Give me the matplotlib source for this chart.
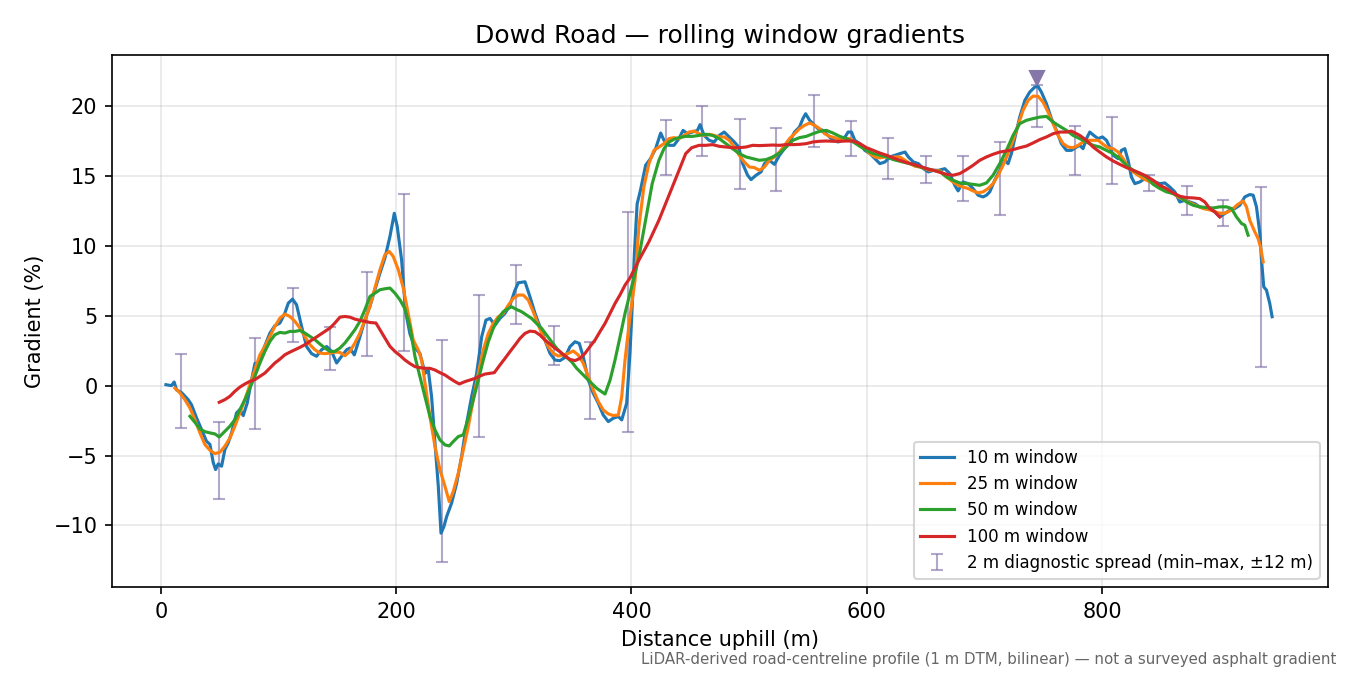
import numpy as np
import matplotlib
matplotlib.use("Agg")
import matplotlib.pyplot as plt

# ---------------- data ----------------
w10_x = [4.3, 9, 11.3, 13.3, 17.6, 23.2, 26, 30.3, 34.6, 38.8, 41.7, 44.5, 46.5, 48.7, 51.6, 54.4, 57.2, 60.1,
         64.3, 67.2, 70, 73.4, 77.1, 80, 82.2, 87, 92.7, 96.9, 101.2, 105.4, 108.3, 111.9, 115.3, 119.6, 123.8,
         128.1, 132.3, 136.6, 140.9, 145.1, 149.4, 153.6, 157.9, 160.7, 164.4, 169.2, 173.4, 177.7, 181.9, 186.2,
         190.4, 194.7, 198.4, 200.9, 204.6, 208.0, 211.7, 216, 220.2, 224.5, 227.3, 230.1, 233, 235.8, 238.1,
         240.6, 242.9, 247.1, 251.4, 255.6, 259.9, 264.1, 268.4, 272.7, 276.3, 279.7, 284, 288.2, 292.5, 296.7,
         301, 303.8, 309.5, 313.7, 318, 322.2, 326.5, 330.7, 335, 339.2, 343.5, 347.7, 352, 355.6, 359, 363.3,
         367.5, 371.8, 376, 380.3, 384.5, 388.8, 391.7, 395.9, 398.7, 400.5, 402.5, 404.8, 407.7, 412, 416.2,
         420.5, 424.8, 427.6, 431.9, 436.1, 440.4, 443.8, 447.5, 451.8, 456.1, 458.3, 461.7, 466, 470.3, 474.6,
         478.8, 483.1, 487.4, 491.1, 494.5, 498.7, 501.6, 505.9, 510.1, 513, 517.2, 521.5, 525.8, 530, 534.3,
         538.6, 542.8, 545.7, 548, 551.4, 554.2, 558.5, 562.8, 567, 571.3, 575.6, 579.8, 584.1, 587, 589.8,
         594.1, 598.3, 602.6, 606.9, 611.1, 615.4, 619.7, 623.9, 628.2, 632.5, 635.3, 639.6, 643.9, 648.1,
         652.4, 656.7, 660.9, 666.3, 670.5, 674.8, 677.6, 681.8, 686.1, 690.3, 694.6, 698.8, 701.7, 704.5,
         708.7, 713, 717.2, 720.1, 722.9, 725.7, 730, 734.3, 738.5, 742.8, 745.6, 748.4, 752.7, 756.9, 761.2,
         765.4, 769.7, 773.9, 778.2, 781, 783.8, 786.7, 789.5, 792.9, 796.6, 800.3, 803.7, 806.5, 809.4, 813.6,
         816.4, 819.3, 822.1, 824.9, 827.8, 832, 836.3, 840.5, 844.8, 849, 853.3, 857.5, 861.8, 866, 870.3,
         874.5, 878.8, 883, 887.3, 891.5, 895.8, 900, 904.3, 908.5, 912.8, 917, 921.3, 925.5, 928.4, 931.2,
         934.1, 935.5, 937.4, 939.7, 942.5, 944.5]
w10_y = [0.07, 0.0, 0.26, -0.3, -0.5, -1.0, -1.36, -2.3, -3.14, -3.98, -4.2, -5.5, -6.0, -5.6, -5.76, -4.57, -4.1,
         -3.38, -1.95, -1.7, -2.14, -1.24, 0.43, 1.6, 1.38, 2.57, 3.76, 4.29, 4.48, 5.19, 5.9, 6.19, 5.79, 4.24,
         2.8, 2.29, 2.1, 2.57, 2.8, 2.45, 1.62, 2.1, 2.57, 2.69, 2.2, 3.5, 4.7, 5.67, 6.86, 8.05, 9.12, 10.67,
         12.33, 11.38, 9.0, 5.3, 3.7, 2.7, 2.3, 0.88, 1.12, -0.79, -4.12, -7.2, -10.55, -10.07, -9.36, -8.4,
         -6.98, -5.07, -2.69, -0.79, 0.88, 3.5, 4.69, 4.81, 4.33, 4.81, 5.17, 5.76, 6.83, 7.36, 7.43, 6.36, 5.17,
         4.21, 3.26, 2.31, 1.83, 1.79, 2.02, 2.79, 3.14, 3.02, 2.07, 0.4, -0.55, -1.26, -2.1, -2.57, -2.33, -2.21,
         -2.45, -1.26, 2.3, 5.5, 9.5, 13.0, 14.0, 15.76, 16.24, 16.95, 18.07, 17.55, 17.19, 17.19, 17.67, 18.26,
         18.02, 18.14, 18.26, 18.67, 17.9, 17.55, 17.43, 17.9, 18.14, 17.79, 17.43, 17.07, 15.88, 15.05, 14.74,
         15.05, 15.29, 15.88, 16.12, 15.83, 16.48, 16.95, 17.43, 18.14, 18.5, 19.1, 19.45, 18.98, 18.74, 18.38,
         18.26, 17.9, 17.55, 17.43, 17.55, 18.14, 18.14, 17.55, 17.31, 16.83, 16.6, 16.24, 15.88, 16.0, 16.36,
         16.48, 16.6, 16.71, 16.36, 16.0, 15.88, 15.52, 15.29, 15.4, 15.4, 15.52, 15.17, 14.33, 13.93, 14.57,
         14.45, 14.1, 13.62, 13.5, 13.62, 13.86, 14.69, 15.4, 16.12, 15.88, 16.6, 17.67, 19.21, 20.4, 21.0,
         21.36, 21.4, 21.0, 20.17, 19.1, 18.26, 17.31, 16.83, 16.83, 17.07, 17.19, 16.95, 17.67, 18.14, 17.9,
         17.67, 17.79, 17.55, 17.07, 16.48, 16.24, 16.83, 16.95, 16.12, 14.93, 14.45, 14.57, 14.81, 14.69, 14.57,
         14.45, 14.5, 14.21, 13.86, 13.14, 13.26, 13.14, 13.02, 12.79, 12.67, 12.67, 12.43, 12.07, 12.31, 12.55,
         12.67, 12.9, 13.5, 13.67, 13.62, 12.79, 10.88, 8.98, 7.07, 6.83, 5.88, 4.93]

w25_x = [11.9, 16.2, 20.4, 24.7, 28.9, 33.2, 37.4, 41.7, 45.9, 50.2, 54.4, 58.7, 62.9, 67.2, 71.4, 75.7, 79.9,
         84.2, 88.4, 92.7, 96.9, 101.2, 105.4, 109.7, 113.9, 118.2, 122.4, 126.7, 130.9, 135.2, 139.4, 143.7,
         147.9, 152.2, 156.4, 160.7, 164.9, 169.2, 173.4, 177.7, 181.9, 186.2, 190.4, 194.1, 197.5, 201.8, 206,
         210.3, 214.5, 218.8, 221.6, 224.5, 228.7, 233, 237.2, 241.5, 245.1, 248.5, 252.8, 257, 261.3, 265.5,
         269.8, 274, 278.3, 282.5, 286.8, 291, 295.3, 299.5, 303.8, 308, 312.3, 316.5, 320.8, 325, 329.3, 333.5,
         337.8, 342, 346.3, 350.5, 354.8, 359, 363.3, 367.5, 371.8, 376, 380.3, 384.5, 388.8, 391.7, 394.5,
         398.7, 403, 406.3, 410.5, 414.8, 419.1, 423.3, 427.6, 431.9, 436.1, 440.4, 444.7, 448.9, 453.2, 457.5,
         461.7, 466, 470.3, 474.6, 478.8, 483.1, 487.4, 491.6, 495.9, 500.2, 504.4, 508.7, 513, 517.2, 521.5,
         525.8, 530, 534.3, 538.6, 542.8, 547.1, 551.4, 555.6, 559.9, 564.2, 568.5, 572.7, 577, 581.3, 585.5,
         589.8, 594.1, 598.3, 602.6, 606.9, 611.1, 615.4, 619.7, 623.9, 628.2, 632.5, 636.7, 641, 645.3, 649.5,
         653.8, 658.1, 662.4, 667.7, 673.3, 677.6, 681.8, 686.1, 690.3, 694.6, 698.8, 703.1, 707.3, 711.6,
         715.8, 720.1, 724.3, 728.6, 732.8, 737.1, 741.3, 745.6, 749.8, 754.1, 758.3, 762.6, 766.8, 771.1,
         775.3, 779.6, 783.8, 788.1, 792.3, 796.6, 800.9, 805.1, 809.4, 813.6, 817.9, 822.1, 826.4, 830.6,
         834.9, 839.1, 843.4, 847.6, 851.9, 856.1, 860.4, 864.6, 868.9, 873.1, 877.4, 881.6, 885.9, 890.1,
         894.4, 898.6, 902.9, 907.1, 911.4, 915.6, 919.9, 922.7, 925.5, 929.8, 932.6, 934.6, 936.9]
w25_y = [-0.17, -0.52, -1.0, -1.6, -2.43, -3.38, -4.21, -4.62, -4.86, -4.76, -4.33, -3.74, -2.9, -1.95, -1.0,
         0.07, 1.14, 2.21, 2.81, 3.52, 4.24, 4.83, 5.12, 4.95, 4.6, 4.12, 3.52, 2.93, 2.57, 2.33, 2.29, 2.33, 2.4,
         2.38, 2.14, 2.45, 3.05, 3.76, 4.71, 5.67, 6.98, 8.29, 9.36, 9.6, 9.24, 8.29, 7.0, 5.1, 3.26, 2.55, 1.83,
         0.17, -2.21, -4.36, -6.02, -7.21, -8.29, -7.57, -6.26, -4.6, -2.93, -1.02, 0.88, 2.55, 3.74, 4.45, 4.93,
         5.17, 5.76, 6.24, 6.48, 6.48, 6.12, 5.29, 4.33, 3.5, 2.79, 2.31, 2.12, 2.19, 2.31, 2.48, 2.19, 1.6, 0.64,
         -0.31, -1.14, -1.74, -2.02, -2.14, -2.1, -0.79, 1.83, 4.93, 7.55, 11.36, 14.21, 15.88, 16.83, 17.07,
         17.31, 17.67, 17.74, 17.67, 17.9, 18.14, 18.21, 18.02, 17.9, 17.98, 17.9, 17.79, 17.79, 17.55, 17.07,
         16.48, 16.0, 15.64, 15.6, 15.4, 15.64, 16.12, 16.36, 16.71, 17.19, 17.67, 18.02, 18.38, 18.62, 18.79,
         18.62, 18.38, 18.02, 17.83, 17.74, 17.6, 17.67, 17.67, 17.43, 17.19, 16.95, 16.6, 16.36, 16.29, 16.36,
         16.31, 16.36, 16.36, 16.12, 15.88, 15.69, 15.64, 15.52, 15.4, 15.4, 15.36, 14.93, 14.57, 14.33, 14.21,
         14.1, 13.93, 13.79, 13.86, 14.1, 14.45, 15.05, 15.76, 16.6, 17.55, 18.62, 19.69, 20.4, 20.71, 20.69,
         20.29, 19.57, 18.74, 17.9, 17.31, 17.07, 17.02, 17.19, 17.43, 17.55, 17.55, 17.55, 17.26, 17.02, 16.95,
         16.71, 16.24, 15.64, 15.29, 15.05, 14.81, 14.64, 14.45, 14.33, 14.17, 13.93, 13.74, 13.5, 13.31, 13.14,
         12.98, 12.83, 12.67, 12.6, 12.5, 12.36, 12.31, 12.43, 12.67, 12.98, 13.21, 12.79, 11.83, 11.0, 10.52,
         9.93, 8.86]

w50_x = [24.7, 28.9, 33.2, 37.4, 41.7, 45.9, 49.6, 54.4, 58.7, 62.9, 67.2, 71.4, 75.7, 79.9, 84.2, 88.4, 92.7,
         96.9, 101.2, 105.4, 109.7, 113.9, 118.2, 122.4, 126.7, 130.9, 135.2, 139.4, 143.7, 147.9, 152.2, 156.4,
         160.7, 164.9, 169.2, 173.4, 177.7, 181.9, 186.2, 190.4, 194.7, 198.9, 203.2, 207.4, 211.7, 216, 220.2,
         224.5, 228.7, 233, 237.2, 241.5, 245.1, 248.5, 252.8, 257, 261.3, 265.5, 269.8, 274, 278.3, 282.5,
         286.8, 291, 295.3, 298.1, 302.3, 306.6, 310.8, 315.1, 319.3, 323.6, 327.8, 332.1, 336.4, 340.6, 344.9,
         349.1, 353.4, 357.6, 361.9, 366.1, 370.4, 374.6, 377.5, 381.8, 386, 390.3, 394.5, 398.7, 403, 406.3,
         412, 417.6, 423.3, 427.6, 431.9, 436.1, 440.4, 446.1, 451.8, 457.5, 463.2, 468.9, 474.6, 480.2, 485.9,
         491.6, 497.3, 503, 508.7, 514.4, 520.1, 525.8, 531.5, 537.2, 542.8, 548.5, 554.2, 559.9, 565.6, 571.3,
         577, 582.7, 588.4, 594.1, 599.8, 605.5, 611.1, 616.8, 622.5, 628.2, 633.9, 639.6, 645.3, 651, 656.7,
         662.4, 667.7, 673.3, 679, 684.7, 690.3, 696, 701.7, 707.3, 713, 718.7, 724.3, 730, 735.7, 741.3, 747,
         752.7, 758.3, 764, 769.7, 775.3, 781, 786.7, 792.3, 798, 803.7, 809.4, 815, 820.7, 826.4, 832, 837.7,
         843.4, 849, 854.7, 860.4, 866, 871.7, 877.4, 883, 888.7, 894.4, 900, 905.7, 910, 914.2, 918.5, 921.3,
         924.1]
w50_y = [-2.19, -2.62, -3.1, -3.29, -3.38, -3.45, -3.67, -3.26, -2.9, -2.43, -1.71, -1.0, -0.17, 0.67, 1.62,
         2.45, 3.17, 3.64, 3.81, 3.76, 3.88, 3.88, 3.95, 3.76, 3.52, 3.29, 2.98, 2.69, 2.45, 2.45, 2.69, 3.05,
         3.52, 4.0, 4.6, 5.43, 6.38, 6.62, 6.86, 6.93, 6.98, 6.62, 6.14, 5.5, 4.2, 2.07, 0.64, -0.79, -2.21, -3.17,
         -3.88, -4.24, -4.31, -4.0, -3.64, -3.52, -2.33, -1.02, 0.4, 1.83, 3.14, 4.1, 4.81, 5.29, 5.52, 5.64,
         5.45, 5.29, 5.05, 4.81, 4.45, 4.1, 3.62, 3.14, 2.67, 2.31, 2.02, 1.71, 1.24, 0.88, 0.52, 0.17, -0.19,
         -0.43, -0.6, 0.4, 1.83, 3.5, 5.17, 6.6, 8.0, 9.2, 11.83, 14.45, 16.12, 16.95, 17.43, 17.62, 17.74,
         17.83, 17.83, 17.9, 17.98, 17.9, 17.67, 17.31, 16.95, 16.6, 16.36, 16.24, 16.12, 16.17, 16.36, 16.64,
         17.07, 17.55, 17.74, 17.83, 18.02, 18.19, 18.26, 18.07, 17.83, 17.67, 17.43, 17.12, 16.83, 16.6, 16.48,
         16.36, 16.17, 16.05, 15.93, 15.81, 15.64, 15.52, 15.4, 15.29, 14.93, 14.69, 14.5, 14.45, 14.4, 14.33,
         14.5, 15.05, 15.88, 16.83, 17.9, 18.74, 18.98, 19.1, 19.21, 19.26, 18.86, 18.55, 18.26, 17.9, 17.67,
         17.43, 17.19, 17.07, 16.83, 16.6, 16.24, 15.76, 15.4, 15.17, 14.93, 14.4, 14.1, 13.86, 13.74, 13.5,
         13.14, 12.9, 12.79, 12.74, 12.71, 12.79, 12.79, 12.67, 12.07, 11.6, 11.48, 10.76]

w100_x = [49.6, 54.4, 58.7, 62.9, 67.2, 71.4, 75.7, 79.9, 84.2, 88.4, 92.7, 96.9, 101.2, 105.4, 109.7, 113.9,
          118.2, 122.4, 126.7, 130.9, 135.2, 139.4, 143.7, 147.9, 152.2, 156.4, 160.7, 164.9, 169.2, 173.4, 177.7,
          182.8, 186.2, 190.4, 194.7, 198.9, 203.2, 207.4, 211.7, 216, 220.2, 224.5, 228.7, 233, 237.2, 241.5,
          245.7, 250, 253.7, 258.5, 262.7, 267, 271.2, 275.5, 279.7, 283.4, 288.2, 292.5, 296.7, 301, 305.2,
          309.5, 313.7, 318, 322.2, 326.5, 330.7, 335, 339.2, 343.5, 347.7, 352, 356.2, 360.5, 364.7, 369, 373.2,
          377.5, 381.8, 386, 390.3, 394.5, 398.7, 406.3, 414.8, 423.3, 431.9, 440.4, 446.1, 451.2, 457.5, 463.2,
          468.9, 474.6, 480.2, 485.9, 491.6, 497.3, 503, 508.7, 514.4, 520.1, 525.8, 531.5, 537.2, 542.8, 548.5,
          554.2, 559.9, 565.6, 571.3, 577, 582.7, 588.4, 594.1, 599.8, 605.5, 611.1, 616.8, 622.5, 628.2, 633.9,
          639.6, 645.3, 651, 656.7, 662.4, 667.7, 673.3, 679, 684.7, 690.3, 696, 701.7, 707.3, 713, 718.7, 724.3,
          730, 735.7, 741.3, 747, 752.7, 758.3, 764, 769.7, 773.9, 781, 786.7, 792.3, 798, 803.7, 809.4, 815,
          820.7, 826.4, 832, 837.7, 843.4, 849, 854.7, 860.4, 866, 871.7, 877.4, 883, 887.3, 891.5, 895.8, 900]
w100_y = [-1.19, -1.0, -0.76, -0.4, -0.1, 0.12, 0.31, 0.43, 0.67, 0.9, 1.26, 1.62, 1.9, 2.21, 2.4, 2.57, 2.74,
          2.93, 3.17, 3.4, 3.64, 3.88, 4.12, 4.48, 4.9, 4.95, 4.9, 4.76, 4.67, 4.6, 4.52, 4.48, 4.0, 3.4, 2.81,
          2.45, 2.16, 1.84, 1.58, 1.36, 1.29, 1.24, 1.24, 1.12, 0.93, 0.76, 0.52, 0.29, 0.12, 0.29, 0.4, 0.52,
          0.69, 0.83, 0.88, 0.93, 1.48, 1.95, 2.43, 2.9, 3.38, 3.74, 3.9, 3.86, 3.62, 3.26, 2.98, 2.67, 2.43,
          2.12, 1.88, 1.79, 1.95, 2.31, 2.79, 3.26, 3.86, 4.45, 5.17, 5.88, 6.5, 7.19, 7.7, 8.98, 10.29, 11.83,
          13.62, 15.4, 16.6, 17.02, 17.19, 17.19, 17.24, 17.12, 17.07, 17.02, 17.02, 17.07, 17.19, 17.17, 17.19,
          17.21, 17.19, 17.24, 17.24, 17.26, 17.31, 17.43, 17.48, 17.5, 17.48, 17.48, 17.5, 17.5, 17.31, 17.02,
          16.83, 16.64, 16.48, 16.29, 16.12, 15.95, 15.83, 15.69, 15.52, 15.4, 15.25, 15.12, 15.05, 15.17, 15.45,
          15.76, 16.12, 16.36, 16.55, 16.71, 16.79, 16.88, 17.02, 17.14, 17.36, 17.6, 17.79, 18.02, 18.14, 18.14,
          18.21, 17.9, 17.55, 17.07, 16.71, 16.36, 16.07, 15.83, 15.6, 15.4, 15.21, 14.98, 14.69, 14.33, 14.1,
          13.79, 13.55, 13.45, 13.43, 13.38, 13.14, 12.67, 12.43, 12.07]

spread_x = [17, 49, 80, 112, 144, 175, 207, 239, 270, 302, 334, 365, 397, 429, 460, 492, 523, 555, 587, 618,
            650, 682, 713, 745, 777, 808, 840, 872, 903, 935]
spread_lo = [-3.0, -8.1, -3.1, 3.1, 1.1, 2.1, 2.5, -12.6, -3.7, 4.4, 1.5, -2.4, -3.3, 15.1, 16.4, 14.1, 13.95,
             17.1, 16.4, 14.8, 14.5, 13.2, 12.2, 18.5, 15.1, 14.4, 13.9, 12.2, 11.4, 1.3]
spread_hi = [2.3, -2.6, 3.4, 7.0, 4.2, 8.1, 13.7, 3.3, 6.5, 8.6, 4.3, 3.1, 12.4, 19.0, 20.0, 19.1, 18.45, 20.8,
             18.9, 17.7, 16.45, 16.4, 17.4, 21.5, 18.6, 19.2, 15.1, 14.3, 13.3, 14.2]

peak_x = [745]
peak_y = [22.0]

# ---------------- figure ----------------
fig = plt.figure(figsize=(9, 4.5), dpi=150)
ax = fig.add_axes([0.083, 0.1304, 0.9007, 0.7881])

ax.plot(w10_x, w10_y, color="#1f77b4", lw=1.5, label="10 m window", zorder=3)
ax.plot(w25_x, w25_y, color="#ff7f0e", lw=1.5, label="25 m window", zorder=3)
ax.plot(w50_x, w50_y, color="#2ca02c", lw=1.5, label="50 m window", zorder=3)
ax.plot(w100_x, w100_y, color="#d62728", lw=1.5, label="100 m window", zorder=3)

lo = np.array(spread_lo)
hi = np.array(spread_hi)
mid = (lo + hi) / 2
ax.errorbar(spread_x, mid, yerr=[mid - lo, hi - mid], fmt="none", ecolor="#7f6fa6", alpha=0.6,
            elinewidth=1.0, capsize=3, capthick=1.0, zorder=2,
            label="2 m diagnostic spread (min\u2013max, \u00b112 m)")

ax.plot(peak_x, peak_y, marker="v", color="#8677aa", markersize=7, linestyle="none", zorder=4)

ax.set_xlim(-41.5, 992)
ax.set_ylim(-14.4, 23.65)
ax.set_yticks([-10, -5, 0, 5, 10, 15, 20])
ax.set_xticks([0, 200, 400, 600, 800])
ax.grid(True, color="#b0b0b0", alpha=0.3, lw=0.8)
ax.set_axisbelow(True)

ax.set_title("Dowd Road \u2014 rolling window gradients", fontsize=12)
ax.set_xlabel("Distance uphill (m)", fontsize=10)
ax.set_ylabel("Gradient (%)", fontsize=10)

ax.legend(loc="lower right", fontsize=8)

fig.text(0.99, 0.012, "LiDAR-derived road-centreline profile (1 m DTM, bilinear) \u2014 not a surveyed asphalt gradient",
         ha="right", va="bottom", fontsize=7.2, color="#666666")

fig.savefig("out.png", dpi=150)
